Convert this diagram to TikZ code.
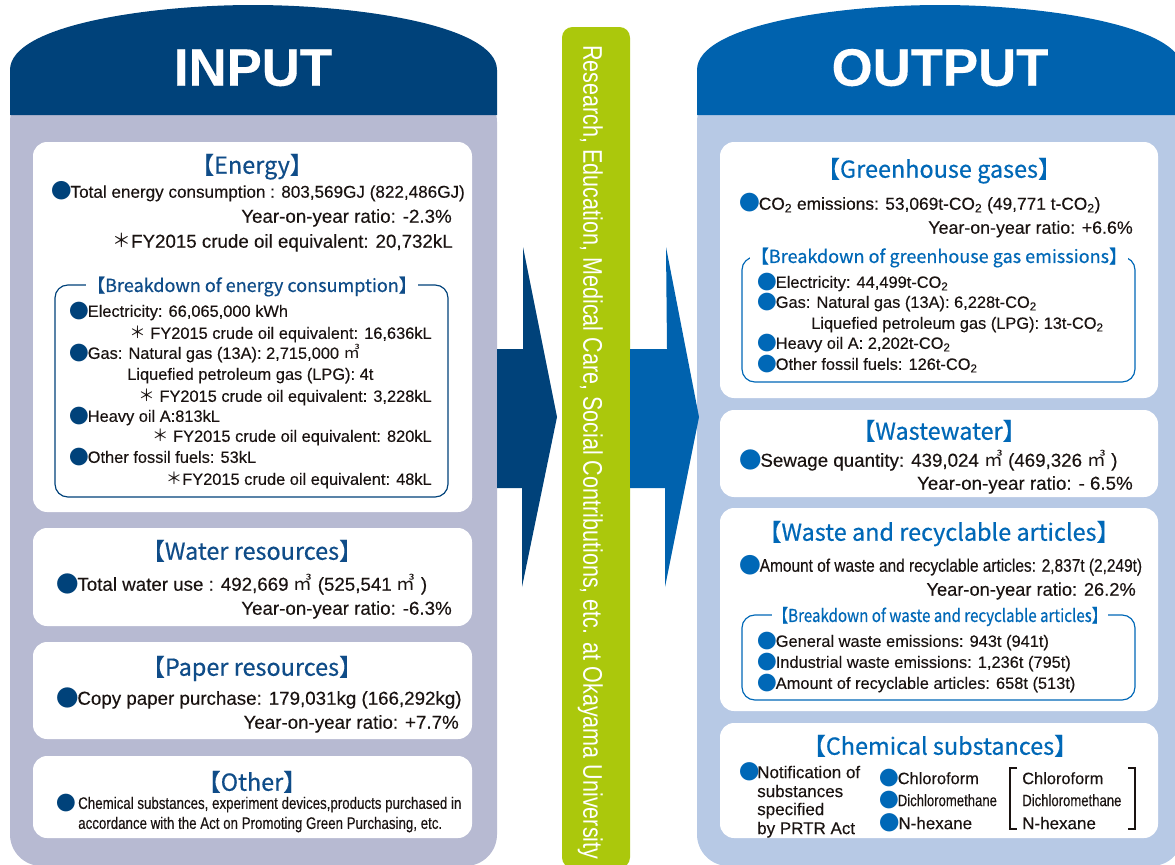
\documentclass[tikz,border=0pt]{standalone}
\usepackage{fontspec}
\setmainfont[FakeBold=0.25]{Liberation Sans}
\newfontfamily\headfont{Noto Sans CJK JP}
\newfontfamily\titlefont[FakeBold=0.5]{Noto Sans CJK JP}
\newfontfamily\narrowfont[FakeStretch=0.8, FakeBold=0.25]{Liberation Sans}
\newfontfamily\widenarrow[FakeStretch=0.85, FakeBold=0.25]{Liberation Sans}
\newfontfamily\barfont[FakeStretch=0.8]{Liberation Sans}
\newfontfamily\narrowhead[FakeStretch=0.85, FakeBold=0.4]{Noto Sans CJK JP}

\definecolor{innavy}{HTML}{00427A}
\definecolor{inlav}{HTML}{B7BAD2}
\definecolor{outblue}{HTML}{0062AE}
\definecolor{outlav}{HTML}{B7C9E5}
\definecolor{barlime}{HTML}{ABC80C}
\definecolor{intitle}{HTML}{0F4C88}
\definecolor{outtitle}{HTML}{0068B7}
\definecolor{ink}{HTML}{1A1311}

\newcommand{\dotmark}[1]{{\headfont\textcolor{#1}{\raisebox{-0.07em}{\scalebox{1.2}{●}}}}\kern-0.07em}
\newcommand{\inb}{\dotmark{innavy}}
\newcommand{\outb}{\dotmark{outtitle}}
\newcommand{\cubic}{{\headfont ㎥}}
\newcommand{\kome}{{\headfont ＊}}
\newcommand{\cotwo}{CO\textsubscript{2}}

\tikzset{
  card/.style={fill=white, rounded corners=12pt},
  frame/.style={line width=1pt, rounded corners=11pt},
  entry/.style={anchor=west, inner sep=0pt, text=ink, text height=11.5pt, text depth=0pt,
    font=\fontsize{16}{18}\selectfont},
  subentry/.style={entry, text height=10pt, font=\fontsize{14}{16}\selectfont},
  flushentry/.style={entry, anchor=east},
  subflush/.style={subentry, anchor=east},
  chemtext/.style={entry, text height=10.4pt, font=\fontsize{14.5}{16}\selectfont},
  heading/.style={inner sep=0pt, text height=13.2pt, text depth=0pt,
    font=\titlefont\fontsize{20}{22}\selectfont},
  subheading/.style={inner sep=0pt, text height=10.2pt, text depth=0pt, fill=white, inner xsep=1pt,
    font=\titlefont\fontsize{15.4}{17}\selectfont},
  banner/.style={inner sep=0pt, text=white, text height=32pt, text depth=0pt,
    font=\bfseries\fontsize{45}{50}\selectfont}
}

\begin{document}
\begin{tikzpicture}[x=0.03cm, y=-0.03cm]
  \clip (0,0) rectangle (1175,864);

  % input side
  \fill[inlav, rounded corners=27pt] (10,90) rectangle (497,866);
  \fill[innavy] (10,115) -- (10,70) .. controls (10,25) and (150,5) .. (253,5)
    .. controls (356,5) and (497,25) .. (497,70) -- (497,115) -- cycle;
  \node[banner] (input) at (253,67) {INPUT};

  \fill[card] (33,142) rectangle (472,512);
  \draw[frame, innavy] (55,285) rectangle (448,497);
  \node[heading, text=intitle] (energy) at (252,166) {【Energy】};
  \node[entry, font=\fontsize{14.6}{16}\selectfont] (etotal) at (51,191)
    {\inb Total energy consumption : 803,569GJ (822,486GJ)};
  \node[flushentry] (eratio) at (452,216) {Year-on-year ratio: -2.3\%};
  \node[flushentry] (eoil) at (453,241) {\kome FY2015 crude oil equivalent: 20,732kL};
  \node[subheading, text=intitle] (ebreak) at (252,286) {【Breakdown of energy consumption】};
  \node[subentry] (elec) at (69,311) {\inb Electricity: 66,065,000 kWh};
  \node[subflush] (elecoil) at (432,333) {\kome\ FY2015 crude oil equivalent: 16,636kL};
  \node[subentry] (gas) at (69,353) {\inb Gas: Natural gas (13A): 2,715,000 \cubic};
  \node[subentry] (lpg) at (127,374) {Liquefied petroleum gas (LPG): 4t};
  \node[subflush] (gasoil) at (432,396) {\kome\ FY2015 crude oil equivalent: 3,228kL};
  \node[subentry] (heavy) at (69,416) {\inb Heavy oil A:813kL};
  \node[subflush] (heavyoil) at (432,436) {\kome\ FY2015 crude oil equivalent: 820kL};
  \node[subentry] (fossil) at (69,457) {\inb Other fossil fuels: 53kL};
  \node[subflush] (fossiloil) at (432,479) {\kome FY2015 crude oil equivalent: 48kL};

  \fill[card] (33,528) rectangle (472,626);
  \node[heading, text=intitle] (water) at (252,552) {【Water resources】};
  \node[entry] (wtotal) at (56,584) {\inb Total water use : 492,669 \cubic\ (525,541 \cubic\ )};
  \node[flushentry] (wratio) at (452,608) {Year-on-year ratio: -6.3\%};

  \fill[card] (33,642) rectangle (472,739);
  \node[heading, text=intitle] (paper) at (252,668) {【Paper resources】};
  \node[entry] (ptotal) at (56,698) {\inb Copy paper purchase: 179,031kg (166,292kg)};
  \node[flushentry] (pratio) at (459,722) {Year-on-year ratio: +7.7\%};

  \fill[card] (33,756) rectangle (472,838);
  \node[heading, text=intitle] (other) at (252,783) {【Other】};
  \node[subentry] (odot) at (56,803) {\inb};
  \node[subentry, font=\narrowfont\fontsize{14.2}{16}\selectfont] (oline1) at (78,803)
    {Chemical substances, experiment devices,products purchased in};
  \node[subentry, font=\narrowfont\fontsize{14.2}{16}\selectfont] (oline2) at (78,823)
    {accordance with the Act on Promoting Green Purchasing, etc.};

  % arrows and the activity bar
  \fill[innavy] (497,349) -- (523,349) -- (523,247) -- (557,417) -- (522,587)
    -- (522,488) -- (497,488) -- cycle;
  \fill[barlime, rounded corners=9pt] (562,27) rectangle (630,868);
  \node[anchor=west, rotate=-90, inner sep=0pt, text=white, text height=16.5pt, text depth=0pt,
    font=\barfont\fontsize{23}{25}\selectfont] (activity) at (593,45)
    {Research, Education, Medical Care, Social Contributions, etc. at Okayama University};

  % output side
  \fill[outlav, rounded corners=27pt] (697,90) rectangle (1183,866);
  \fill[outblue] (697,115) -- (697,70) .. controls (697,25) and (837,5) .. (940,5)
    .. controls (1043,5) and (1183,25) .. (1183,70) -- (1183,115) -- cycle;
  \node[banner] (output) at (940,67) {OUTPUT};
  \fill[outblue] (630,349) -- (667,349) -- (666,247) -- (699,417) -- (665,587)
    -- (665,488) -- (630,488) -- cycle;

  \fill[card] (720,142) rectangle (1158,398);
  \draw[frame, outtitle] (742,257) rectangle (1135,382);
  \node[heading, text=outtitle] (ghg) at (939,170) {【Greenhouse gases】};
  \node[entry, font=\fontsize{14.8}{16}\selectfont] (gtotal) at (739,203)
    {\outb\cotwo\ emissions: 53,069t-\cotwo\ (49,771 t-\cotwo)};
  \node[flushentry, font=\fontsize{15.2}{17}\selectfont] (gratio) at (1133,227) {Year-on-year ratio: +6.6\%};
  \node[subheading, text=outtitle] (gbreak) at (939,257) {【Breakdown of greenhouse gas emissions】};
  \node[subentry] (gelec) at (757,282) {\outb Electricity: 44,499t-\cotwo};
  \node[subentry] (ggas) at (757,302) {\outb Gas: Natural gas (13A): 6,228t-\cotwo};
  \node[subentry] (glpg) at (811,323) {Liquefied petroleum gas (LPG): 13t-\cotwo};
  \node[subentry] (gheavy) at (757,343) {\outb Heavy oil A: 2,202t-\cotwo};
  \node[subentry] (gfossil) at (757,364) {\outb Other fossil fuels: 126t-\cotwo};

  \fill[card] (720,410) rectangle (1158,497);
  \node[heading, text=outtitle] (wastewater) at (939,432) {【Wastewater】};
  \node[entry] (sewage) at (739,460) {\outb Sewage quantity: 439,024 \cubic\ (469,326 \cubic\ )};
  \node[flushentry] (sratio) at (1133,483) {Year-on-year ratio: - 6.5\%};

  \fill[card] (720,508) rectangle (1158,711);
  \draw[frame, outtitle] (742,615) rectangle (1135,700);
  \node[heading, text=outtitle] (waste) at (939,533) {【Waste and recyclable articles】};
  \node[entry, font=\widenarrow\fontsize{15.5}{17}\selectfont] (wamount) at (739,565)
    {\outb Amount of waste and recyclable articles: 2,837t (2,249t)};
  \node[flushentry, font=\fontsize{15.6}{17}\selectfont] (waratio) at (1136,589) {Year-on-year ratio: 26.2\%};
  \node[subheading, text=outtitle, font=\narrowhead\fontsize{15.2}{17}\selectfont] (wbreak) at (940,616)
    {【Breakdown of waste and recyclable articles】};
  \node[subentry] (general) at (757,641) {\outb General waste emissions: 943t (941t)};
  \node[subentry] (industrial) at (757,662) {\outb Industrial waste emissions: 1,236t (795t)};
  \node[subentry] (recyc) at (757,683) {\outb Amount of recyclable articles: 658t (513t)};

  \fill[card] (720,723) rectangle (1158,838);
  \node[heading, text=outtitle] (chem) at (940,747) {【Chemical substances】};
  \node[chemtext] (cdot) at (739,772) {\outb};
  \node[chemtext] (note1) at (757,772) {Notification of};
  \node[chemtext] (note2) at (757,791) {substances};
  \node[chemtext] (note3) at (757,809) {specified};
  \node[chemtext] (note4) at (757,828) {by PRTR Act};
  \node[chemtext, font=\fontsize{14}{16}\selectfont] (chl) at (879,778) {\outb Chloroform};
  \node[chemtext, font=\narrowfont\fontsize{14}{16}\selectfont] (dcm) at (879,800) {\outb Dichloromethane};
  \node[chemtext] (hex) at (879,823) {\outb N-hexane};
  \node[chemtext, font=\fontsize{14}{16}\selectfont] (chlb) at (1022,778) {Chloroform};
  \node[chemtext, font=\narrowfont\fontsize{14}{16}\selectfont] (dcmb) at (1022,800) {Dichloromethane};
  \node[chemtext] (hexb) at (1022,823) {N-hexane};
  \draw[line width=1pt, ink] (1017,768) -- (1010,768) -- (1010,829) -- (1017,829);
  \draw[line width=1pt, ink] (1128,768) -- (1135,768) -- (1135,829) -- (1128,829);
\end{tikzpicture}
\end{document}
